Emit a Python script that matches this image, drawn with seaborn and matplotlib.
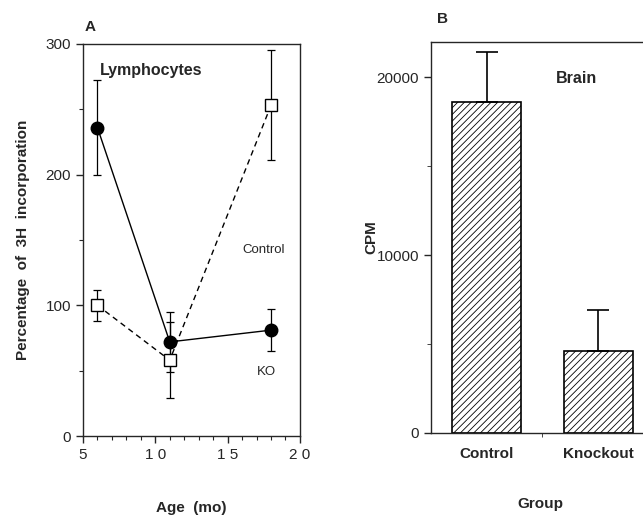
import numpy as np
import pandas as pd
import matplotlib
matplotlib.use('Agg')
import matplotlib.pyplot as plt
import seaborn as sns
from matplotlib.ticker import MultipleLocator

sns.set_style('ticks')
plt.rcParams['font.family'] = ['Liberation Sans', 'DejaVu Sans']
plt.rcParams['hatch.linewidth'] = 0.6

# ── Data ───────────────────────────────────────────────────────────
age = [6, 11, 18]
ko_pct = [236, 72, 81]
ko_err = [36, 23, 16]
ctrl_pct = [100, 58, 253]
ctrl_err = [12, 29, 42]

age_ticks = [5, 10, 15, 20]
age_labels = ['5', '1 0', '1 5', '2 0']

groups = ['Control', 'Knockout']
cpm = [18600, 4600]
cpm_err = [2850, 2300]

lymph = pd.DataFrame({
    'age': age * 2,
    'pct': ko_pct + ctrl_pct,
    'group': ['KO'] * 3 + ['Control'] * 3,
})
brain = pd.DataFrame({'group': groups, 'cpm': cpm})

fig = plt.figure(figsize=(6.43, 5.16), dpi=100)
axA = fig.add_axes([0.129, 0.155, 0.3375, 0.760])
axB = fig.add_axes([0.670, 0.161, 0.340, 0.758])

# ── Panel A: lymphocytes ───────────────────────────────────────────
axA.errorbar(age, ko_pct, yerr=ko_err, fmt='none', ecolor='black',
             elinewidth=0.9, capsize=3, capthick=0.9, zorder=1)
axA.errorbar(age, ctrl_pct, yerr=ctrl_err, fmt='none', ecolor='black',
             elinewidth=0.9, capsize=3, capthick=0.9, zorder=1)
sns.lineplot(data=lymph, x='age', y='pct', hue='group', style='group',
             hue_order=['KO', 'Control'], style_order=['KO', 'Control'],
             palette=['black', 'black'], dashes=[(None, None), (4, 3)],
             markers=['o', 's'], markersize=9, linewidth=1.0,
             markeredgecolor='black', markeredgewidth=1.0,
             legend=False, ax=axA, zorder=3)
# open squares for control
for line in axA.get_lines():
    if line.get_marker() == 's':
        line.set_markerfacecolor('white')

axA.set_xlim(5, 20)
axA.set_ylim(0, 300)
axA.set_xticks(age_ticks, age_labels)
axA.xaxis.set_minor_locator(MultipleLocator(1))
axA.yaxis.set_major_locator(MultipleLocator(100))
axA.yaxis.set_minor_locator(MultipleLocator(50))
axA.tick_params(which='major', length=5, width=1, labelsize=11, direction='out')
axA.tick_params(which='minor', length=3, width=0.8)
for s in axA.spines.values():
    s.set_linewidth(1.0)
axA.set_xlabel('Age  (mo)', fontsize=11, fontweight='bold', labelpad=28)
axA.set_ylabel('Percentage  of  3H  incorporation', fontsize=11,
               fontweight='bold', labelpad=11)

axA.text(0.08, 0.95, 'Lymphocytes', transform=axA.transAxes, fontsize=11.5,
         fontweight='bold', va='top')
axA.text(16.0, 140, 'Control', fontsize=9.5)
axA.text(17.0, 47, 'KO', fontsize=9.5)
fig.text(0.131, 0.940, 'A', fontsize=11, fontweight='bold')

# ── Panel B: brain ─────────────────────────────────────────────────
sns.barplot(data=brain, x='group', y='cpm', color='white', width=0.62,
            edgecolor='black', linewidth=1.2, ax=axB)
for bar in axB.patches:
    bar.set_hatch('/////')
axB.errorbar(range(len(groups)), cpm, yerr=[[0, 0], cpm_err], fmt='none',
             ecolor='black', elinewidth=1.2, capsize=8, capthick=1.2)

axB.set_xlim(-0.5, 1.46)
axB.set_ylim(0, 22000)
axB.yaxis.set_major_locator(MultipleLocator(10000))
axB.yaxis.set_minor_locator(MultipleLocator(5000))
axB.set_xticks([0, 1])
axB.set_xticks([0.5], minor=True)
axB.tick_params(axis='x', which='major', length=0, labelsize=11, pad=10)
axB.tick_params(axis='x', which='minor', length=3)
axB.tick_params(axis='y', which='major', length=5, width=1, labelsize=11)
axB.tick_params(axis='y', which='minor', length=3)
for lab in axB.get_xticklabels():
    lab.set_fontweight('bold')
axB.spines['right'].set_visible(False)
for s in ['left', 'top', 'bottom']:
    axB.spines[s].set_linewidth(1.0)
axB.set_xlabel('Group', fontsize=11, fontweight='bold', labelpad=26)
axB.set_ylabel('CPM', fontsize=11, fontweight='bold', labelpad=-1)
axB.text(0.62, 19700, 'Brain', fontsize=11.5, fontweight='bold')
fig.text(0.679, 0.955, 'B', fontsize=11, fontweight='bold')

plt.savefig('out.png', dpi=100)
plt.close()
